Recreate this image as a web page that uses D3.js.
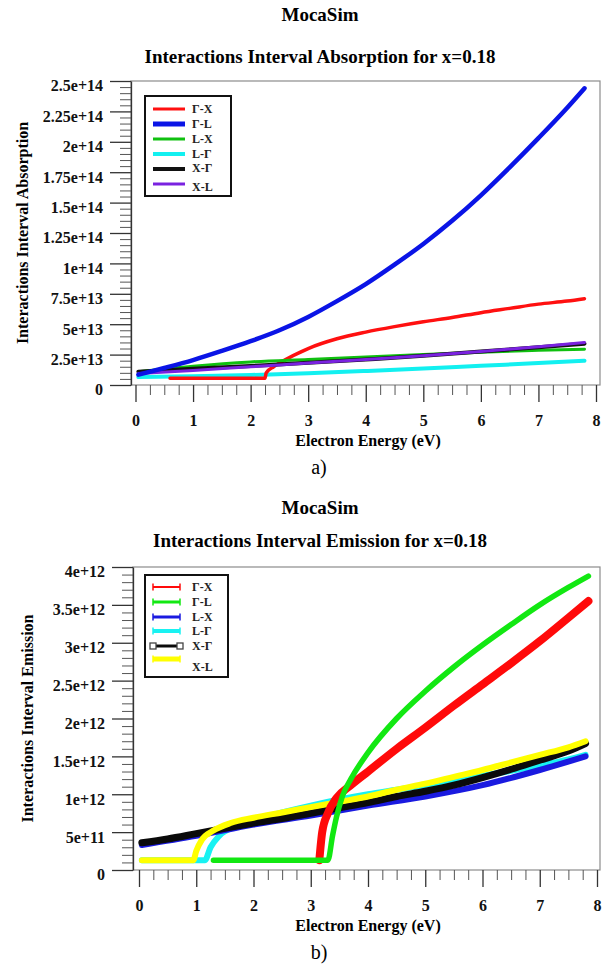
<!DOCTYPE html>
<html>
<head>
<meta charset="utf-8">
<script src="https://cdn.jsdelivr.net/npm/d3@7"></script>
<style>
  body { margin: 0; background: #fff; }
  text { font-family: "Liberation Serif", "Times New Roman", serif; }
</style>
</head>
<body>
<script>
// tick labels
var xTicks = [0, 1, 2, 3, 4, 5, 6, 7, 8];
var absTickVals = [0, 2.5, 5, 7.5, 10, 12.5, 15, 17.5, 20, 22.5, 25];   // x1e13
var absTickLabels = ["0", "2.5e+13", "5e+13", "7.5e+13", "1e+14", "1.25e+14", "1.5e+14", "1.75e+14", "2e+14", "2.25e+14", "2.5e+14"];
var emiTickVals = [0, 0.5, 1, 1.5, 2, 2.5, 3, 3.5, 4];                    // x1e12
var emiTickLabels = ["0", "5e+11", "1e+12", "1.5e+12", "2e+12", "2.5e+12", "3e+12", "3.5e+12", "4e+12"];

// a) absorption, values in units of 1e13
var absNames = ["Γ-X", "Γ-L", "L-X", "L-Γ", "X-Γ", "X-L"];
var absGX_E = [0.6, 2.25, 2.27, 2.4, 2.5, 3, 3.5, 4, 4.5, 5, 5.5, 6, 6.5, 7, 7.5, 7.8];
var absGX_V = [0.55, 0.55, 1.0, 1.5, 1.8, 3.0, 3.8, 4.35, 4.8, 5.2, 5.55, 5.95, 6.3, 6.65, 6.9, 7.1];
var absGL_E = [0.05, 0.5, 1, 1.5, 2, 2.5, 3, 3.5, 4, 4.5, 5, 5.5, 6, 6.5, 7, 7.5, 7.8];
var absGL_V = [0.85, 1.4, 2.05, 2.8, 3.6, 4.5, 5.6, 6.9, 8.3, 9.9, 11.6, 13.5, 15.6, 17.9, 20.3, 22.8, 24.4];
var absLX_E = [0.05, 1, 2, 3, 4, 5, 6, 7, 7.8];
var absLX_V = [1.1, 1.55, 1.9, 2.1, 2.3, 2.5, 2.7, 2.85, 2.95];
var absLG_E = [0.05, 1, 2, 3, 4, 5, 6, 7, 7.8];
var absLG_V = [0.65, 0.72, 0.82, 0.97, 1.15, 1.35, 1.58, 1.8, 2.0];
var absXG_E = [0.05, 1, 2, 3, 4, 5, 6, 7, 7.8];
var absXG_V = [1.1, 1.33, 1.57, 1.82, 2.1, 2.4, 2.75, 3.1, 3.4];
var absXL_E = [0.05, 1, 2, 3, 4, 5, 6, 7, 7.8];
var absXL_V = [0.95, 1.2, 1.5, 1.8, 2.1, 2.4, 2.75, 3.15, 3.5];

// b) emission, values in units of 1e12
var emiNames = ["Γ-X", "Γ-L", "L-X", "L-Γ", "X-Γ", "X-L"];
var emiGX_E = [3.15, 3.2, 3.3, 3.45, 3.7, 4, 4.5, 5, 5.5, 6, 6.5, 7, 7.5, 7.85];
var emiGX_V = [0.13, 0.5, 0.75, 0.95, 1.12, 1.3, 1.6, 1.88, 2.17, 2.45, 2.73, 3.02, 3.33, 3.55];
var emiGL_E = [1.3, 3.3, 3.38, 3.45, 3.55, 3.7, 4, 4.5, 5, 5.5, 6, 6.5, 7, 7.5, 7.85];
var emiGL_V = [0.13, 0.13, 0.45, 0.7, 0.97, 1.2, 1.55, 2.0, 2.36, 2.68, 2.97, 3.24, 3.5, 3.73, 3.88];
var emiLX_E = [0.05, 1, 2, 3, 4, 5, 6, 7, 7.8];
var emiLX_V = [0.33, 0.45, 0.6, 0.72, 0.85, 0.97, 1.12, 1.32, 1.5];
var emiLG_E = [0.05, 1.15, 1.25, 1.4, 1.7, 2, 2.5, 3, 3.5, 4, 4.5, 5, 5.5, 6, 6.5, 7, 7.5, 7.8];
var emiLG_V = [0.13, 0.13, 0.3, 0.45, 0.58, 0.66, 0.76, 0.85, 0.93, 1.0, 1.06, 1.12, 1.18, 1.24, 1.31, 1.38, 1.46, 1.52];
var emiXG_E = [0.05, 0.5, 1, 1.5, 2, 2.5, 3, 3.5, 4, 4.5, 5, 5.5, 6, 6.5, 7, 7.5, 7.8];
var emiXG_V = [0.36, 0.41, 0.48, 0.55, 0.62, 0.68, 0.75, 0.82, 0.89, 0.97, 1.04, 1.12, 1.22, 1.33, 1.45, 1.57, 1.67];
var emiXL_E = [0.05, 0.95, 1.0, 1.1, 1.3, 1.6, 2, 2.5, 3, 3.5, 4, 4.5, 5, 5.5, 6, 6.5, 7, 7.5, 7.8];
var emiXL_V = [0.13, 0.13, 0.25, 0.4, 0.52, 0.62, 0.69, 0.76, 0.83, 0.9, 0.97, 1.06, 1.14, 1.23, 1.32, 1.42, 1.52, 1.62, 1.70];

var svg = d3.select("body").append("svg")
    .attr("width", 606)
    .attr("height", 967);

function zip(es, vs) {
  return es.map(function(e, i) { return [e, vs[i]]; });
}

// one panel
function drawPanel(cfg) {
  var g = svg.append("g");
  var x = d3.scaleLinear().domain([0, 8]).range([cfg.x0, cfg.x8]);
  var y = d3.scaleLinear().domain([0, cfg.ymax]).range([cfg.bottom, cfg.top]);

  g.append("text").attr("x", 320).attr("y", cfg.titleY)
      .attr("text-anchor", "middle").attr("font-weight", "bold").attr("font-size", 19)
      .text("MocaSim");
  g.append("text").attr("x", 320).attr("y", cfg.subY)
      .attr("text-anchor", "middle").attr("font-weight", "bold").attr("font-size", 19)
      .text(cfg.subtitle);

  // frame
  g.append("rect")
      .attr("x", cfg.left).attr("y", cfg.top)
      .attr("width", cfg.right - cfg.left).attr("height", cfg.bottom - cfg.top)
      .attr("fill", "none").attr("stroke", "#8c8c8c").attr("stroke-width", 1.2);

  // y axis minor + major
  var minorY = [];
  for (var i = 0; i < cfg.yTickVals.length - 1; i++) {
    var a = cfg.yTickVals[i], b = cfg.yTickVals[i + 1];
    for (var k = 1; k < 5; k++) minorY.push(a + (b - a) * k / 5);
  }
  g.append("g").attr("transform", "translate(" + cfg.left + ",0)")
      .call(d3.axisLeft(y).tickValues(minorY).tickSize(11).tickFormat(""))
      .call(function(s) { s.select(".domain").remove(); s.selectAll("line").attr("stroke", "#555"); });
  g.append("g").attr("transform", "translate(" + cfg.left + ",0)")
      .call(d3.axisLeft(y).tickValues(cfg.yTickVals).tickSize(21).tickSizeOuter(0).tickPadding(7)
          .tickFormat(function(d, i) { return cfg.yTickLabels[i]; }))
      .call(function(s) {
        s.select(".domain").attr("stroke", "#333").attr("stroke-width", 1.3);
        s.selectAll("line").attr("stroke", "#333").attr("stroke-width", 1.3);
        s.selectAll("text").attr("font-family", "Liberation Serif").attr("font-weight", "bold")
          .attr("font-size", 16).attr("fill", "#111").attr("dy", "0.62em");
      });

  // x axis minor + major
  var minorX = [];
  for (var j = 0; j < 8; j++) for (var m = 1; m < 4; m++) minorX.push(j + m / 4);
  g.append("g").attr("transform", "translate(0," + cfg.bottom + ")")
      .call(d3.axisBottom(x).tickValues(minorX).tickSize(10).tickFormat(""))
      .call(function(s) { s.select(".domain").remove(); s.selectAll("line").attr("stroke", "#555"); });
  g.append("g").attr("transform", "translate(0," + cfg.bottom + ")")
      .call(d3.axisBottom(x).tickValues(xTicks).tickSize(17).tickPadding(13))
      .call(function(s) {
        s.select(".domain").remove();
        s.selectAll("line").attr("stroke", "#333").attr("stroke-width", 1.3);
        s.selectAll("text").attr("font-family", "Liberation Serif").attr("font-weight", "bold")
          .attr("font-size", 16).attr("fill", "#111");
      });

  g.append("text").attr("x", 368).attr("y", cfg.bottom + 61)
      .attr("text-anchor", "middle").attr("font-weight", "bold").attr("font-size", 16)
      .text("Electron Energy (eV)");
  g.append("text")
      .attr("transform", "translate(" + cfg.yTitleX + "," + ((cfg.top + cfg.bottom) / 2) + ") rotate(-90)")
      .attr("text-anchor", "middle").attr("font-weight", "bold").attr("font-size", 16)
      .text(cfg.yTitle);
  g.append("text").attr("x", 319).attr("y", cfg.bottom + 89)
      .attr("text-anchor", "middle").attr("font-size", 20)
      .text(cfg.tag);

  // series
  var line = d3.line()
      .x(function(d) { return x(d[0]); })
      .y(function(d) { return y(d[1]); })
      .curve(d3.curveMonotoneX);
  cfg.order.forEach(function(idx) {
    var s = cfg.series[idx];
    g.append("path")
        .datum(zip(s.e, s.v))
        .attr("d", line)
        .attr("fill", "none")
        .attr("stroke", s.color)
        .attr("stroke-width", s.width)
        .attr("stroke-linecap", "round")
        .attr("stroke-linejoin", "round");
  });

  // legend
  var lg = g.append("g");
  lg.append("rect").attr("x", cfg.legend.x).attr("y", cfg.legend.y)
      .attr("width", cfg.legend.w).attr("height", cfg.legend.h)
      .attr("fill", "#fff").attr("stroke", "#111").attr("stroke-width", 2);
  cfg.series.forEach(function(s, i) {
    var ly = cfg.legend.rows[i];
    lg.append("line")
        .attr("x1", cfg.legend.x + 8).attr("x2", cfg.legend.x + cfg.legend.lineW)
        .attr("y1", ly).attr("y2", ly)
        .attr("stroke", s.color).attr("stroke-width", s.legW);
    if (cfg.legend.caps) {
      [cfg.legend.x + 8, cfg.legend.x + cfg.legend.lineW].forEach(function(cx) {
        if (s.name === "X-Γ") {
          lg.append("rect").attr("x", cx - 3).attr("y", ly - 3).attr("width", 6).attr("height", 6)
              .attr("fill", "#fff").attr("stroke", "#444").attr("stroke-width", 1.3);
        } else {
          lg.append("line").attr("x1", cx).attr("x2", cx).attr("y1", ly - 3.5).attr("y2", ly + 3.5)
              .attr("stroke", s.color).attr("stroke-width", 1.5);
        }
      });
    }
    lg.append("text").attr("x", cfg.legend.x + 47).attr("y", cfg.legend.textRows[i])
        .attr("dy", "0.35em").attr("font-weight", "bold").attr("font-size", 12)
        .attr("fill", "#222")
        .text(s.name);
  });
}

drawPanel({
  titleY: 21, subY: 63,
  subtitle: "Interactions Interval Absorption for x=0.18",
  left: 131, right: 600, top: 81, bottom: 385,
  x0: 135.5, x8: 596,
  ymax: 25, yTickVals: absTickVals, yTickLabels: absTickLabels,
  yTitle: "Interactions Interval Absorption", yTitleX: 28,
  tag: "a)",
  series: [
    {name: absNames[0], e: absGX_E, v: absGX_V, color: "#ff1010", width: 3.5, legW: 3},
    {name: absNames[1], e: absGL_E, v: absGL_V, color: "#0a14e6", width: 4.5, legW: 5},
    {name: absNames[2], e: absLX_E, v: absLX_V, color: "#10c010", width: 3, legW: 3},
    {name: absNames[3], e: absLG_E, v: absLG_V, color: "#12f0f0", width: 4, legW: 4},
    {name: absNames[4], e: absXG_E, v: absXG_V, color: "#111111", width: 4, legW: 4},
    {name: absNames[5], e: absXL_E, v: absXL_V, color: "#7a22e0", width: 3, legW: 3}
  ],
  order: [3, 0, 2, 4, 5, 1],
  legend: {x: 145, y: 96, w: 86, h: 100, lineW: 40, caps: false,
           rows: [109, 124, 139, 154, 169, 184],
           textRows: [109, 124, 139, 154, 168, 187]}
});

drawPanel({
  titleY: 514, subY: 547,
  subtitle: "Interactions Interval Emission for x=0.18",
  left: 133, right: 600, top: 567, bottom: 870,
  x0: 139, x8: 597,
  ymax: 4, yTickVals: emiTickVals, yTickLabels: emiTickLabels,
  yTitle: "Interactions Interval Emission", yTitleX: 33,
  tag: "b)",
  series: [
    {name: emiNames[0], e: emiGX_E, v: emiGX_V, color: "#ff0a0a", width: 8, legW: 2},
    {name: emiNames[1], e: emiGL_E, v: emiGL_V, color: "#12e812", width: 5.5, legW: 3},
    {name: emiNames[2], e: emiLX_E, v: emiLX_V, color: "#1a1ae0", width: 6, legW: 3},
    {name: emiNames[3], e: emiLG_E, v: emiLG_V, color: "#18f2f2", width: 6, legW: 4},
    {name: emiNames[4], e: emiXG_E, v: emiXG_V, color: "#0a0a0a", width: 7, legW: 3},
    {name: emiNames[5], e: emiXL_E, v: emiXL_V, color: "#ffff00", width: 6, legW: 5}
  ],
  order: [3, 2, 4, 5, 0, 1],
  legend: {x: 145, y: 575, w: 83, h: 102, lineW: 35, caps: true,
           rows: [587, 602, 617, 631, 646, 659],
           textRows: [587, 602, 617, 631, 646, 667]}
});
</script>
</body>
</html>
